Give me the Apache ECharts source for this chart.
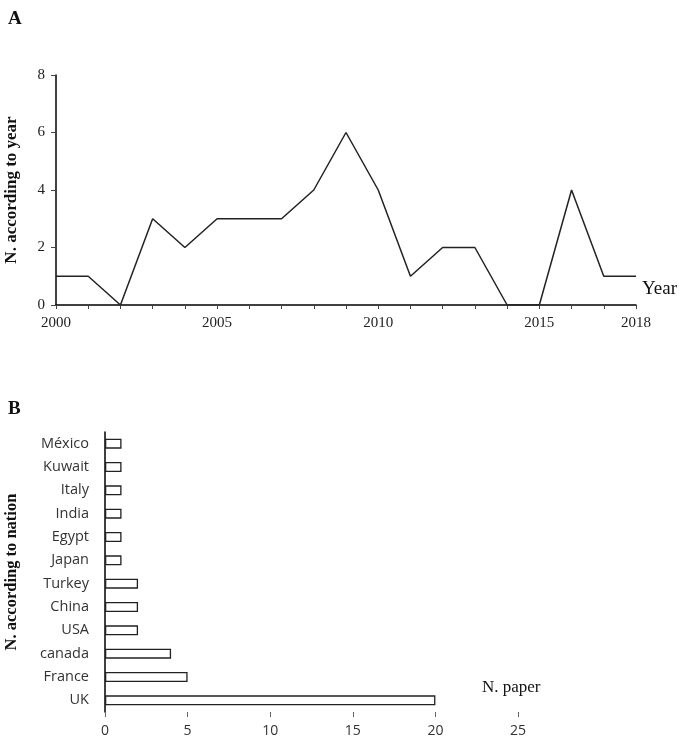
<!DOCTYPE html>
<html><head><meta charset="utf-8">
<script src="https://cdn.jsdelivr.net/npm/echarts@6/dist/echarts.min.js"></script>
<style>html,body{margin:0;padding:0;background:#fff}#c{width:679px;height:748px}</style>
</head><body><div id="c"></div>
<script>
const years = [2000,2001,2002,2003,2004,2005,2006,2007,2008,2009,2010,2011,2012,2013,2014,2015,2016,2017,2018];
const papersPerYear = [1,1,0,3,2,3,3,3,4,6,4,1,2,2,0,0,4,1,1];
const yearTickLabels = [2000,2005,2010,2015,2018];
const nations = ['UK','France','canada','USA','China','Turkey','Japan','Egypt','India','Italy','Kuwait','México'];
const papersPerNation = [20,5,4,2,2,2,1,1,1,1,1,1];

const serif = '"Liberation Serif","DejaVu Serif",serif';
const sans = '"Open Sans","Noto Sans",sans-serif';
const chart = echarts.init(document.getElementById('c'));
chart.setOption({
  animation:false,
  backgroundColor:'#fff',
  grid:[
    {left:56, top:75, right:43, bottom:443, containLabel:false, outerBoundsMode:'none'},
    {left:105, top:432, right:161, bottom:36, containLabel:false, outerBoundsMode:'none'}
  ],
  xAxis:[
    {gridIndex:0, type:'value', min:2000, max:2018, interval:1,
     axisLine:{lineStyle:{color:'#000',width:1.5}},
     axisTick:{show:true, inside:false, length:4, lineStyle:{color:'#444'}},
     splitLine:{show:false},
     axisLabel:{fontFamily:serif, fontSize:15, color:'#222', margin:11,
       formatter:v=> yearTickLabels.indexOf(v)>=0 ? String(v) : '',
       showMinLabel:true, showMaxLabel:true}},
    {gridIndex:1, type:'value', min:0, max:25, interval:5,
     axisLine:{lineStyle:{color:'#666',width:1.2}},
     axisTick:{show:true, length:5, lineStyle:{color:'#666'}},
     splitLine:{show:false},
     axisLabel:{fontFamily:sans, fontSize:14, color:'#333', margin:12}}
  ],
  yAxis:[
    {gridIndex:0, type:'value', min:0, max:8, interval:2,
     axisLine:{show:true, lineStyle:{color:'#000',width:1.5}},
     axisTick:{show:true, length:5, lineStyle:{color:'#444'}},
     splitLine:{show:false},
     axisLabel:{fontFamily:serif, fontSize:15, color:'#222', margin:11},
     name:'N. according to year', nameLocation:'middle', nameRotate:90, nameGap:36,
     nameTextStyle:{fontFamily:serif, fontSize:17, fontWeight:'bold', color:'#111'}},
    {gridIndex:1, type:'category', data:nations,
     axisLine:{show:true, lineStyle:{color:'#000',width:1.5}},
     axisTick:{show:false},
     splitLine:{show:false},
     axisLabel:{fontFamily:sans, fontSize:14.5, color:'#333', margin:16},
     name:'N. according to nation', nameLocation:'middle', nameRotate:90, nameGap:85,
     nameTextStyle:{fontFamily:serif, fontSize:16.5, fontWeight:'bold', color:'#111'}}
  ],
  series:[
    {type:'line', xAxisIndex:0, yAxisIndex:0,
     data:years.map((y,i)=>[y,papersPerYear[i]]),
     symbol:'none', lineStyle:{color:'#222',width:1.5}},
    {type:'bar', xAxisIndex:1, yAxisIndex:1, data:papersPerNation, barWidth:10,
     itemStyle:{color:'#fff', borderColor:'#222', borderWidth:1.3}}
  ],
  graphic:[
    {type:'text', left:8, top:10, style:{text:'A', font:'bold 19px '+serif, fill:'#111'}},
    {type:'text', left:8, top:400, style:{text:'B', font:'bold 19px '+serif, fill:'#111'}},
    {type:'text', left:642, top:280, style:{text:'Year', font:'19px '+serif, fill:'#111'}},
    {type:'text', left:482, top:679, style:{text:'N. paper', font:'17px '+serif, fill:'#111'}}
  ]
});
</script></body></html>
